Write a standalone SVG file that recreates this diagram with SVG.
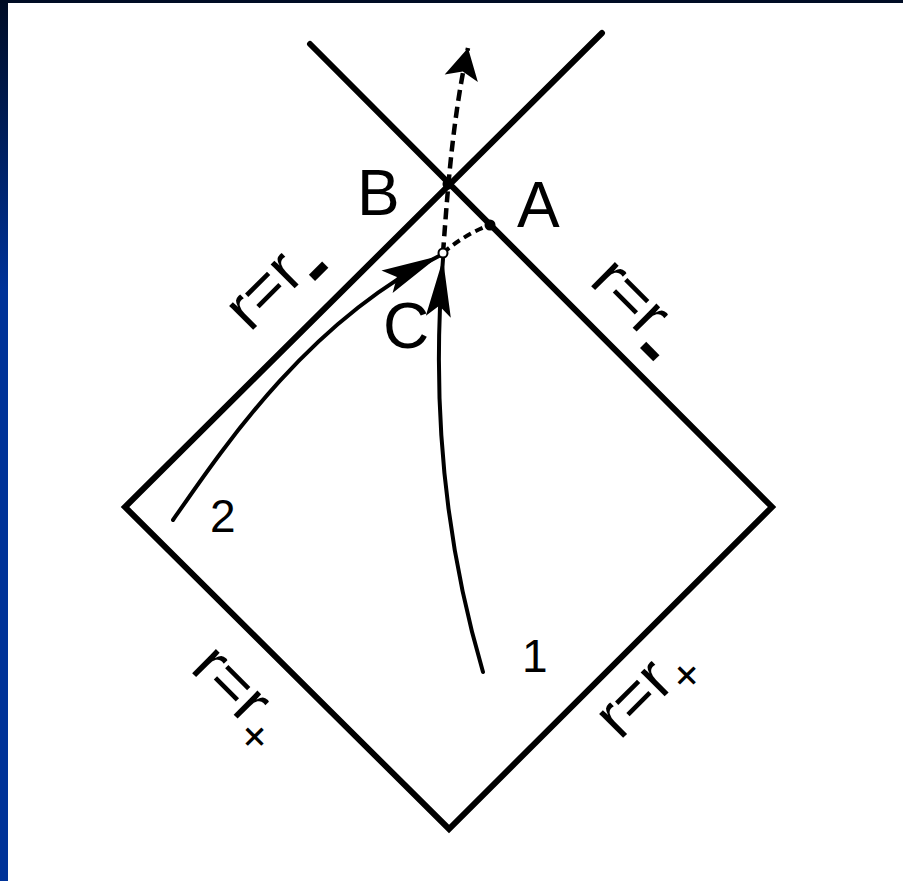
<svg xmlns="http://www.w3.org/2000/svg" width="903" height="881" viewBox="0 0 903 881">
  <style>
    .edge { fill: none; stroke: #000; stroke-width: 6; stroke-linecap: round; stroke-linejoin: miter; }
    .world { fill: none; stroke: #000; stroke-width: 4; stroke-linecap: round; }
    .dash { fill: none; stroke: #000; stroke-width: 4.5; stroke-dasharray: 11 6; }
    .dash2 { fill: none; stroke: #000; stroke-width: 4; stroke-dasharray: 8 5; }
    .lbl { font-family: "Liberation Sans", Arial, sans-serif; fill: #000; }
    .big { font-size: 64px; }
    .num { font-size: 46px; }
    .minus { font-size: 74px; font-weight: bold; }
    .plus { font-size: 46px; }
  </style>
  <defs>
    <linearGradient id="strip" x1="0" y1="0" x2="0" y2="1">
      <stop offset="0" stop-color="#000c24"/>
      <stop offset="0.33" stop-color="#003399"/>
      <stop offset="1" stop-color="#003399"/>
    </linearGradient>
    <marker id="head" markerUnits="userSpaceOnUse" orient="auto" viewBox="-62 -15 64 30" markerWidth="64" markerHeight="30" refX="0" refY="0">
      <path d="M0,0 L-58,-12.5 L-47,0 L-58,12.5 Z" fill="#000"/>
    </marker>
    <marker id="headTop" markerUnits="userSpaceOnUse" orient="auto" viewBox="-34 -19 36 38" markerWidth="36" markerHeight="38" refX="0" refY="0">
      <path d="M0,0 L-31,-17 L-24,0 L-31,17 Z" fill="#000"/>
    </marker>
  </defs>
  <rect x="0" y="0" width="903" height="881" fill="#ffffff"/>
  <rect x="0" y="0" width="8" height="881" fill="url(#strip)"/>
  <rect x="0" y="0" width="903" height="3" fill="#000c24"/>

  <g id="horizons">
    <path class="edge" d="M602,33 L125,507 L449,829 L772,507 L310,44"/>
  </g>

  <g id="connectors">
    <path id="worldline-1" class="world" d="M483,672 C450,560 430,420 443,259" marker-end="url(#head)"/>
    <path id="worldline-2" class="world" d="M173,520 C225,445 310,320 439,256" marker-end="url(#head)"/>
    <path id="continuation" class="dash" d="M443,253 C447,200 452,120 468,48" marker-end="url(#headTop)"/>
    <path id="to-A" class="dash2" d="M443,253 Q465,234 490,225"/>
  </g>

  <g id="node-B">
    <circle cx="448" cy="184" r="5.5" fill="#000"/>
    <text class="lbl big" x="357" y="215">B</text>
  </g>
  <g id="node-A">
    <circle cx="490" cy="225" r="5.5" fill="#000"/>
    <text class="lbl big" x="517" y="227">A</text>
  </g>
  <g id="node-C">
    <circle cx="443" cy="253" r="4.5" fill="#fff" stroke="#000" stroke-width="2"/>
    <text class="lbl big" x="383" y="348">C</text>
  </g>

  <g id="labels">
    <text class="lbl num" x="522" y="672">1</text>
    <text class="lbl num" x="210" y="532">2</text>
    <text class="lbl big" transform="translate(250,333) rotate(-45)">r=r<tspan class="minus" dy="24">-</tspan></text>
    <text class="lbl big" transform="translate(588,283) rotate(45)">r=r<tspan class="minus" dy="24">-</tspan></text>
    <text class="lbl big" transform="translate(189,670) rotate(45)">r=r<tspan class="plus" dy="16">+</tspan></text>
    <text class="lbl big" transform="translate(620,741) rotate(-45)">r=r<tspan class="plus" dy="16">+</tspan></text>
  </g>
</svg>
